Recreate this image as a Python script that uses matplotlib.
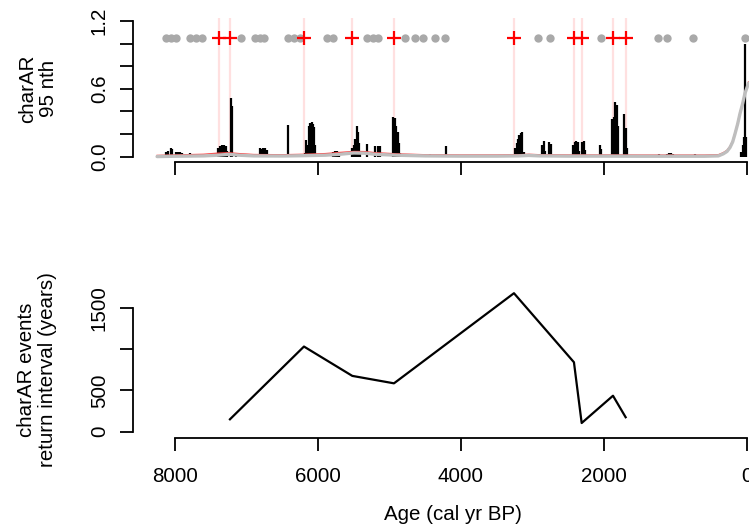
import numpy as np
import matplotlib.pyplot as plt

plt.rcParams['font.family'] = ['Liberation Sans', 'DejaVu Sans']

# -- charcoal accumulation rate peaks (age cal yr BP, charAR) -- #
char_age = [8126, 8098, 8056, 8042, 7986, 7958, 7930, 7902, 7790, 7692,
            7399, 7371, 7343, 7315, 7287, 7273, 7210, 7203, 7147,
            6811, 6790, 6769, 6741, 6713, 6424, 6300,
            6182, 6168, 6147, 6126, 6105, 6084, 6070, 6049, 6035,
            5790, 5762, 5734, 5706,
            5524, 5503, 5482, 5461, 5447, 5433, 5413, 5315, 5203, 5154, 5126,
            4944, 4923, 4902, 4881, 4867, 4853, 4783, 4671, 4601, 4434, 4210,
            3238, 3217, 3203, 3182, 3161, 3140, 3119,
            2860, 2839, 2825, 2762, 2741,
            2427, 2406, 2385, 2364, 2350, 2301, 2280, 2259, 2049, 2035,
            1881, 1860, 1839, 1818, 1804, 1713, 1692, 1671,
            1231, 1119, 1091, 1063, 1035, 727,
            77, 56, 42, 24, 7]
char_val = [0.04, 0.05, 0.077, 0.07, 0.04, 0.04, 0.04, 0.035, 0.03, 0.025,
            0.08, 0.09, 0.10, 0.10, 0.09, 0.05, 0.52, 0.45, 0.02,
            0.08, 0.07, 0.08, 0.08, 0.06, 0.28, 0.02,
            0.03, 0.15, 0.10, 0.27, 0.30, 0.31, 0.29, 0.26, 0.10,
            0.04, 0.045, 0.045, 0.04,
            0.08, 0.10, 0.16, 0.275, 0.22, 0.12, 0.05, 0.11, 0.09, 0.09, 0.09,
            0.35, 0.34, 0.27, 0.22, 0.12, 0.03, 0.02, 0.02, 0.015, 0.02, 0.09,
            0.08, 0.12, 0.16, 0.19, 0.21, 0.22, 0.04,
            0.10, 0.14, 0.05, 0.13, 0.11,
            0.10, 0.13, 0.14, 0.13, 0.05, 0.13, 0.14, 0.06, 0.10, 0.07,
            0.33, 0.35, 0.48, 0.46, 0.27, 0.38, 0.25, 0.08,
            0.02, 0.025, 0.03, 0.03, 0.025, 0.02,
            0.04, 0.10, 0.17, 1.0, 0.17]

# -- background (grey) and threshold (red) -- #
bg_age = [8250, 8000, 7600, 7400, 7250, 7100, 6900, 6500, 6200, 5900, 5700,
          5500, 5350, 5200, 4900, 4500, 4000, 3500, 3200, 3050, 2900, 2500,
          2000, 1500, 1000, 600, 400, 332, 280, 238, 200, 168, 130, 98, 60, 28, 0, -21]
bg_val = [0.0, 0.003, 0.006, 0.012, 0.02, 0.012, 0.006, 0.005, 0.008, 0.012, 0.02,
          0.032, 0.03, 0.02, 0.012, 0.006, 0.004, 0.004, 0.006, 0.01, 0.006, 0.004,
          0.004, 0.003, 0.003, 0.003, 0.006, 0.024, 0.045, 0.08, 0.13, 0.2, 0.29, 0.38, 0.47, 0.56, 0.61, 0.65]
thr_age = [8250, 8000, 7600, 7400, 7250, 7100, 6900, 6500, 6200, 5900, 5700,
           5500, 5350, 5200, 4900, 4500, 4000, 3500, 3200, 3050, 2900, 2500,
           2000, 1500, 1000, 600, 400, 332, 280, 238, 200, 168, 130, 98, 60, 28, 0, -21]
thr_val = [0.01, 0.014, 0.02, 0.03, 0.034, 0.026, 0.018, 0.016, 0.02, 0.026, 0.036,
           0.045, 0.044, 0.034, 0.024, 0.016, 0.014, 0.014, 0.016, 0.02, 0.016, 0.014,
           0.014, 0.013, 0.013, 0.013, 0.016, 0.034, 0.055, 0.09, 0.14, 0.21, 0.3, 0.39, 0.48, 0.57, 0.62, 0.66]

# -- peaks (events) and non-significant peaks -- #
event_age = [7380, 7231, 6196, 5520, 4937, 3259, 2420, 2312, 1874, 1697]
insig_age = [8125, 8055, 7985, 7790, 7705, 7620, 7075, 6880, 6810, 6755,
             6420, 6335, 6250, 5875, 5790, 5315, 5230, 5160, 4785, 4645,
             4530, 4365, 4225, 2925, 2755, 2040, 1245, 1120, 755, 30]

# -- return intervals -- #
fri_age = [7231, 6196, 5520, 4937, 3259, 2420, 2312, 1874, 1697]
fri_val = [150, 1030, 675, 585, 1675, 840, 105, 435, 175]

fig = plt.figure(figsize=(7.49, 5.28), dpi=100)
W, H = 749.0, 528.0
fs = 14.8
xlim = (8587, -322)

def style_axes(ax):
    for s in ['top', 'right']:
        ax.spines[s].set_visible(False)
    for s in ['left', 'bottom']:
        ax.spines[s].set_linewidth(1.3)
    ax.spines['bottom'].set_bounds(8000, 0)
    ax.tick_params(length=9.4, width=1.3, labelsize=fs, direction='out')
    ax.set_facecolor('none')
    ax.set_xlim(*xlim)
    ax.set_xticks([8000, 6000, 4000, 2000, 0])


# -- TOP PANEL -- #
ax1 = fig.add_axes([133 / W, 1 - 162 / H, 637 / W, (162 - 15.6) / H])
style_axes(ax1)
ax1.set_ylim(-0.048, 1.248)
ax1.spines['left'].set_bounds(0, 1.2)
ax1.set_yticks(np.arange(0, 1.21, 0.2))
ax1.set_yticklabels(['0.0', '', '', '0.6', '', '', '1.2'], rotation=90, va='center')
ax1.tick_params(axis='y', pad=8)
ax1.set_xticklabels([])

ax1.vlines(event_age, 0, 1.227, color='#ffe0e0', lw=1.6, zorder=1)
ax1.vlines(char_age, 0, char_val, color='black', lw=1.6, zorder=2)
ax1.plot(thr_age, thr_val, color='#ff4040', lw=1.0, zorder=3)
ax1.plot(bg_age, bg_val, color='#bebebe', lw=2.4, zorder=4, solid_capstyle='round')
ax1.plot(insig_age, [1.05] * len(insig_age), 'o', color='#a9a9a9', ms=6, mew=0, zorder=5)
ax1.plot(event_age, [1.05] * len(event_age), '+', color='red', ms=10, mew=1.6, zorder=6)

fig.text(38 / W, 1 - 88.5 / H, 'charAR\n95 nth', rotation=90, ha='center', va='center',
         fontsize=fs, linespacing=1.15)

# -- BOTTOM PANEL -- #
ax2 = fig.add_axes([133 / W, 1 - 437.7 / H, 637 / W, (437.7 - 275.6) / H])
style_axes(ax2)
ax2.set_ylim(-72.6, 1888)
ax2.spines['left'].set_bounds(0, 1500)
ax2.set_yticks([0, 500, 1000, 1500])
ax2.set_yticklabels(['0', '500', '', '1500'], rotation=90, va='center')
ax2.tick_params(axis='y', pad=8)
ax2.tick_params(axis='x', pad=12)
ax2.plot(fri_age, fri_val, color='black', lw=1.6)

fig.text(37 / W, 1 - 370 / H, 'charAR events\nreturn interval (years)', rotation=90,
         ha='center', va='center', fontsize=fs, linespacing=1.15)
fig.text(453 / W, 1 - 514 / H, 'Age (cal yr BP)', ha='center', va='center', fontsize=fs)

fig.savefig('out.png', dpi=100)
